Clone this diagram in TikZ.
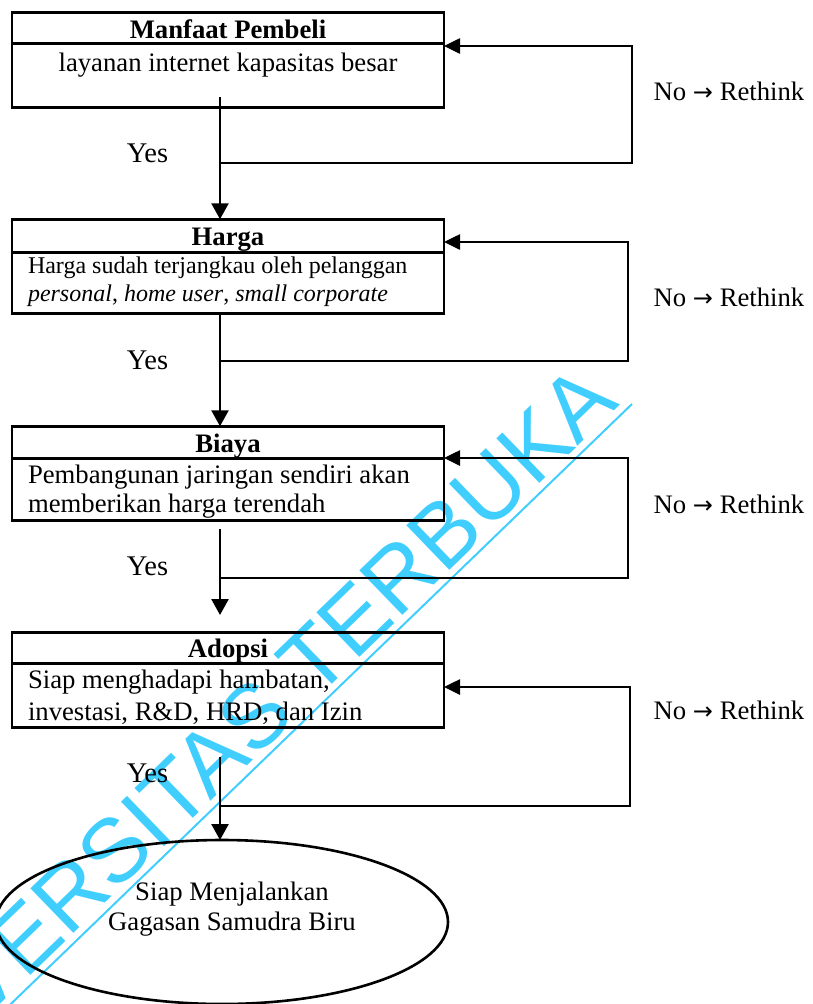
\documentclass[tikz,border=0pt]{standalone}
\usepackage{fontspec}
\setmainfont{Liberation Serif}
\newfontfamily\wmfont{Liberation Sans}
\newfontfamily\arrowfont{DejaVu Sans}
\usetikzlibrary{arrows.meta,shapes.geometric}
\definecolor{wmcyan}{RGB}{64,206,255}
\newcommand{\rethink}{No {\arrowfont\fontsize{24}{30}\selectfont →} Rethink}
\begin{document}
\begin{tikzpicture}[x=1pt,y=-1pt,
  every node/.style={inner sep=0pt,outer sep=0pt},
  txt/.style={font=\fontsize{26.7}{30}\selectfont},
  small/.style={font=\fontsize{24}{28}\selectfont},
  head/.style={font=\fontsize{26.7}{30}\selectfont\bfseries,anchor=base},
  body/.style={txt,anchor=base west},
  lbl/.style={txt,anchor=base},
  yes/.style={font=\fontsize{28.5}{30}\selectfont,anchor=base},
  stagebox/.style={draw,line width=2.6pt,minimum width=432pt,minimum height=94.5pt},
  rule/.style={line width=2.6pt},
  flow/.style={line width=2.6pt,-{Triangle[width=17pt,length=16pt]}},
  feed/.style={line width=2.6pt,-{Triangle[width=15pt,length=16pt]}},
  wm/.style={font=\wmfont\fontsize{90}{92}\selectfont,text=wmcyan},
  wmline/.style={draw=wmcyan,line width=2pt}]

\useasboundingbox (0,0) rectangle (813,1004);
\clip (0,0) rectangle (813,1004);

% watermark, beneath the chart
\node[wm,rotate=44,anchor=base east] (wmtext) at (621,405) {UNIVERSITAS TERBUKA};
\coordinate (wa) at (632,404);
\coordinate (wb) at (-12,1026);
\draw[wmline] (wa) -- (wb);

% stage boxes
\node[stagebox] (b1) at (228,60) {};
\node[stagebox] (b2) at (228,266.5) {};
\node[stagebox] (b3) at (228,473.5) {};
\node[stagebox] (b4) at (228,680) {};

% header dividers
\draw[rule] (b1.north west) ++(0,31) -- ++(432,0);
\draw[rule] (b2.north west) ++(0,33) -- ++(432,0);
\draw[rule] (b3.north west) ++(0,32) -- ++(432,0);
\draw[rule] (b4.north west) ++(0,31) -- ++(432,0);

% box texts
\node[head] (h1) at (228,38) {Manfaat Pembeli};
\node[lbl] (t1) at (228,71) {layanan internet kapasitas besar};

\node[head] (h2) at (228,245) {Harga};
\node[small,anchor=base west] (t2a) at (28,273) {Harga sudah terjangkau oleh pelanggan};
\node[small,anchor=base west] (t2b) at (28,301) {\textit{personal}, \textit{home user}, \textit{small corporate}};

\node[head] (h3) at (228,452) {Biaya};
\node[body] (t3a) at (28,483) {Pembangunan jaringan sendiri akan};
\node[body] (t3b) at (28,512) {memberikan harga terendah};

\node[head] (h4) at (228,657) {Adopsi};
\node[body] (t4a) at (28,688) {Siap menghadapi hambatan,};
\node[body] (t4b) at (28,720) {investasi, R\&D, HRD, dan Izin};

% final goal
\node[ellipse,draw,line width=2.6pt,minimum width=452pt,minimum height=164pt] (goal) at (222,922) {};
\node[lbl] (g1) at (232,900) {Siap Menjalankan};
\node[lbl] (g2) at (232,930) {Gagasan Samudra Biru};

% Yes / No labels
\node[yes] (y1) at (147.5,162) {Yes};
\node[yes] (y2) at (147.5,369) {Yes};
\node[yes] (y3) at (147.5,575) {Yes};
\node[yes] (y4) at (147.5,782) {Yes};
\node[lbl] (n1) at (729,100) {\rethink};
\node[lbl] (n2) at (729,306) {\rethink};
\node[lbl] (n3) at (729,513) {\rethink};
\node[lbl] (n4) at (729,719) {\rethink};

% forward arrows
\coordinate (s1) at (220,97);
\coordinate (s2) at (220,314);
\coordinate (s3) at (220,529);
\coordinate (e3) at (220,615);
\coordinate (s4) at (220,757);
\draw[flow] (s1) -- (s1 |- b2.north);
\draw[flow] (s2) -- (s2 |- b3.north);
\draw[flow] (s3) -- (e3);
\draw[flow] (s4) -- (s4 |- goal.north);

% rethink loops
\coordinate (m1) at (220,163);  \coordinate (r1) at (632,46);
\coordinate (m2) at (220,361);  \coordinate (r2) at (628,242);
\coordinate (m3) at (220,578);  \coordinate (r3) at (628,458);
\coordinate (m4) at (220,806);  \coordinate (r4) at (630,687);
\draw[feed] (m1) -| (r1) -- (r1 -| b1.east);
\draw[feed] (m2) -| (r2) -- (r2 -| b2.east);
\draw[feed] (m3) -| (r3) -- (r3 -| b3.east);
\draw[feed] (m4) -| (r4) -- (r4 -| b4.east);
\end{tikzpicture}
\end{document}
